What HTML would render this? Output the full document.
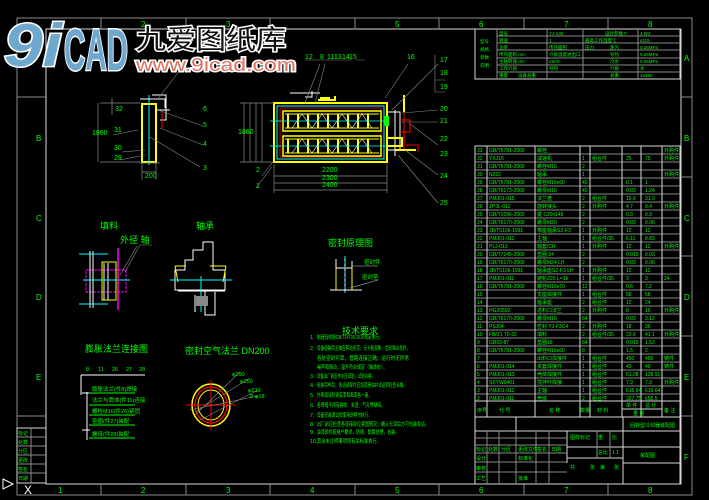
<!DOCTYPE html>
<html><head><meta charset="utf-8"><style>
html,body{margin:0;padding:0;background:#000;}
svg{display:block}
text{font-family:"Liberation Sans","Noto Sans CJK SC",sans-serif;}
.g{fill:#00ff00;font-size:6.5px;}
</style></head><body>
<svg width="709" height="500" viewBox="0 0 709 500" xmlns="http://www.w3.org/2000/svg">
<rect width="709" height="500" fill="#000"/>
<rect x="17" y="18" width="675" height="477" fill="none" stroke="#8a8a8a" stroke-width="1"/>
<rect x="46" y="29" width="635" height="455" fill="none" stroke="#d8d8d8" stroke-width="1"/>
<line x1="17" y1="97" x2="46" y2="97" stroke="#8a8a8a"/>
<line x1="17" y1="416" x2="46" y2="416" stroke="#8a8a8a"/>
<g stroke="#8a8a8a">
<line x1="681" y1="97" x2="692" y2="97"/><line x1="681" y1="177" x2="692" y2="177"/><line x1="681" y1="256" x2="692" y2="256"/><line x1="681" y1="336" x2="692" y2="336"/><line x1="681" y1="416" x2="692" y2="416"/>
<line x1="101" y1="484" x2="101" y2="495"/><line x1="186" y1="484" x2="186" y2="495"/><line x1="270" y1="484" x2="270" y2="495"/><line x1="355" y1="484" x2="355" y2="495"/><line x1="439" y1="484" x2="439" y2="495"/><line x1="524" y1="484" x2="524" y2="495"/><line x1="608" y1="484" x2="608" y2="495"/>
<line x1="101" y1="18" x2="101" y2="29"/><line x1="186" y1="18" x2="186" y2="29"/><line x1="270" y1="18" x2="270" y2="29"/><line x1="355" y1="18" x2="355" y2="29"/><line x1="439" y1="18" x2="439" y2="29"/><line x1="524" y1="18" x2="524" y2="29"/><line x1="608" y1="18" x2="608" y2="29"/>
</g>
<g class="g" style="font-size:8px">
<text x="58" y="493">1</text><text x="141" y="493">2</text><text x="226" y="493">3</text><text x="310" y="493">4</text><text x="395" y="493">5</text><text x="479" y="493">6</text><text x="564" y="493">7</text><text x="648" y="493">8</text>
<text x="141" y="27">2</text><text x="226" y="27">3</text><text x="395" y="27">5</text><text x="479" y="27">6</text><text x="564" y="27">7</text><text x="648" y="27">8</text>
<text x="684" y="61">A</text><text x="684" y="141">B</text><text x="684" y="221">C</text><text x="684" y="300">D</text><text x="684" y="380">E</text><text x="684" y="460">F</text>
<text x="36" y="141">B</text><text x="36" y="221">C</text><text x="36" y="300">D</text><text x="36" y="380">E</text>
</g>
<g stroke="#d8d8d8" fill="none"><rect x="17" y="428" width="29" height="55"/></g>
<g stroke="#8a8a8a"><line x1="17" y1="437" x2="46" y2="437"/><line x1="17" y1="446" x2="46" y2="446"/><line x1="17" y1="455" x2="46" y2="455"/><line x1="17" y1="464" x2="46" y2="464"/><line x1="17" y1="473" x2="46" y2="473"/><line x1="31" y1="428" x2="31" y2="483"/></g>
<g class="g" style="font-size:5px"><text x="18" y="435">标记</text><text x="18" y="444">处数</text><text x="18" y="453">分区</text><text x="18" y="462">更改</text><text x="18" y="471">签名</text><text x="18" y="480">日期</text></g>
<text x="24" y="494" fill="#fff" font-size="12">X</text>
<path d="M3 479 L13 484 L3 489 Z" fill="none" stroke="#fff"/>

<g fill="none" stroke="#d8d8d8"><rect x="475" y="29" width="205" height="50"/></g>
<g stroke="#8a8a8a">
<line x1="497" y1="29" x2="497" y2="79"/><line x1="547" y1="29" x2="547" y2="79"/><line x1="583" y1="29" x2="583" y2="79"/><line x1="638" y1="29" x2="638" y2="79"/>
<line x1="497" y1="36" x2="680" y2="36"/><line x1="497" y1="43" x2="680" y2="43"/><line x1="497" y1="50" x2="680" y2="50"/><line x1="497" y1="58" x2="680" y2="58"/><line x1="497" y1="65" x2="680" y2="65"/><line x1="497" y1="72" x2="680" y2="72"/>
</g>
<g class="g" style="font-size:4.5px">
<text x="480" y="43">型号</text><text x="480" y="51">规格</text><text x="480" y="59">参数</text><text x="480" y="67">说明</text>
<text x="499" y="35">型号</text><text x="549" y="35">YJ-130</text><text x="605" y="35">设计参数 F</text><text x="640" y="35">4.0M</text>
<text x="499" y="42">转速</text><text x="549" y="42">1</text><text x="585" y="42">最高工作温度℃</text><text x="640" y="42">≤115</text>
<text x="499" y="49">功率</text><text x="549" y="49">传热面积</text><text x="585" y="49">压力:</text><text x="610" y="49">蒸汽</text><text x="640" y="49">0.25MPa</text>
<text x="499" y="56">传热面积 mm</text><text x="549" y="56">介质温度进出口</text><text x="610" y="56">导热</text><text x="640" y="56">0.25MPa</text>
<text x="499" y="63">主轴转速 r/m</text><text x="549" y="63">≤5r/m</text><text x="610" y="63">冷水</text><text x="640" y="63">0.25MPa</text>
<text x="499" y="70">工作介质</text><text x="549" y="70">导热</text><text x="610" y="70">介质</text><text x="640" y="70">水</text>
<text x="499" y="77">重量</text><text x="518" y="77">设备总重</text><text x="610" y="77">总重</text><text x="640" y="77">15450</text>
</g>

<g fill="none" stroke="#d8d8d8"><rect x="475" y="146" width="205" height="338"/></g>
<g stroke="#8a8a8a">
<line x1="475" y1="154" x2="680" y2="154"/><line x1="475" y1="162" x2="680" y2="162"/><line x1="475" y1="170" x2="680" y2="170"/><line x1="475" y1="178" x2="680" y2="178"/><line x1="475" y1="186" x2="680" y2="186"/><line x1="475" y1="194" x2="680" y2="194"/><line x1="475" y1="202" x2="680" y2="202"/><line x1="475" y1="210" x2="680" y2="210"/><line x1="475" y1="218" x2="680" y2="218"/><line x1="475" y1="226" x2="680" y2="226"/><line x1="475" y1="234" x2="680" y2="234"/><line x1="475" y1="242" x2="680" y2="242"/><line x1="475" y1="250" x2="680" y2="250"/><line x1="475" y1="258" x2="680" y2="258"/><line x1="475" y1="266" x2="680" y2="266"/><line x1="475" y1="274" x2="680" y2="274"/><line x1="475" y1="282" x2="680" y2="282"/><line x1="475" y1="290" x2="680" y2="290"/><line x1="475" y1="298" x2="680" y2="298"/><line x1="475" y1="306" x2="680" y2="306"/><line x1="475" y1="314" x2="680" y2="314"/><line x1="475" y1="322" x2="680" y2="322"/><line x1="475" y1="330" x2="680" y2="330"/><line x1="475" y1="338" x2="680" y2="338"/><line x1="475" y1="346" x2="680" y2="346"/><line x1="475" y1="354" x2="680" y2="354"/><line x1="475" y1="362" x2="680" y2="362"/><line x1="475" y1="370" x2="680" y2="370"/><line x1="475" y1="378" x2="680" y2="378"/><line x1="475" y1="386" x2="680" y2="386"/><line x1="475" y1="394" x2="680" y2="394"/>
</g>
<g stroke="#d8d8d8">
<line x1="475" y1="401" x2="680" y2="401"/><line x1="475" y1="417" x2="680" y2="417"/><line x1="475" y1="431" x2="680" y2="431"/>
<line x1="487" y1="146" x2="487" y2="417"/><line x1="535" y1="146" x2="535" y2="417"/><line x1="580" y1="146" x2="580" y2="417"/><line x1="590" y1="146" x2="590" y2="417"/><line x1="622" y1="146" x2="622" y2="417"/><line x1="641" y1="146" x2="641" y2="417"/><line x1="662" y1="146" x2="662" y2="417"/>
<line x1="622" y1="409" x2="662" y2="409"/>
<line x1="516" y1="417" x2="516" y2="431"/><line x1="623" y1="417" x2="623" y2="484"/>
<line x1="567" y1="431" x2="567" y2="463"/><line x1="623" y1="447" x2="680" y2="447"/><line x1="623" y1="463" x2="680" y2="463"/><line x1="567" y1="447" x2="623" y2="447"/><line x1="567" y1="458" x2="623" y2="458"/>
</g>
<g stroke="#8a8a8a">
<line x1="475" y1="438" x2="567" y2="438"/><line x1="475" y1="445" x2="567" y2="445"/><line x1="475" y1="453" x2="567" y2="453"/><line x1="475" y1="462" x2="567" y2="462"/><line x1="475" y1="472" x2="567" y2="472"/>
<line x1="487" y1="431" x2="487" y2="484"/><line x1="499" y1="431" x2="499" y2="484"/><line x1="516" y1="431" x2="516" y2="484"/><line x1="536" y1="431" x2="536" y2="484"/><line x1="549" y1="431" x2="549" y2="484"/>
<line x1="597" y1="431" x2="597" y2="458"/><line x1="610" y1="431" x2="610" y2="458"/>
</g>
<g class="g" style="font-size:5px">
<text x="477" y="152">33</text><text x="489" y="152">GB/T5781-2000</text><text x="537" y="152">螺栓</text><text x="664" y="152">外购件</text>
<text x="477" y="160">32</text><text x="489" y="160">YXJ16</text><text x="537" y="160">减速机</text><text x="582" y="160">1</text><text x="592" y="160">组合件</text><text x="626" y="160">25</text><text x="645" y="160">75</text><text x="664" y="160">外购件</text>
<text x="477" y="168">31</text><text x="489" y="168">GB/T5781-2000</text><text x="537" y="168">螺栓M16</text><text x="582" y="168">2</text>
<text x="477" y="176">30</text><text x="489" y="176">N222</text><text x="537" y="176">轴承</text><text x="582" y="176">1</text><text x="664" y="176">外购件</text>
<text x="477" y="184">29</text><text x="489" y="184">GB/T5781-2000</text><text x="537" y="184">螺栓M16x60</text><text x="582" y="184">40</text><text x="626" y="184">0.1</text><text x="645" y="184">1</text>
<text x="477" y="192">28</text><text x="489" y="192">GB/T6173-2000</text><text x="537" y="192">螺母M16</text><text x="582" y="192">40</text><text x="626" y="192">0.03</text><text x="645" y="192">1.24</text>
<text x="477" y="200">27</text><text x="489" y="200">PMJ01-015</text><text x="537" y="200">法兰盘</text><text x="582" y="200">2</text><text x="592" y="200">组合件</text><text x="626" y="200">15.6</text><text x="645" y="200">31.9</text>
<text x="477" y="208">26</text><text x="489" y="208">ZPJL-012</text><text x="537" y="208">旋转接头</text><text x="582" y="208">2</text><text x="592" y="208">外购件</text><text x="626" y="208">4.7</text><text x="645" y="208">9.4</text><text x="664" y="208">外购件</text>
<text x="477" y="216">25</text><text x="489" y="216">GB/T1096-2003</text><text x="537" y="216">键 C20x145</text><text x="582" y="216">2</text><text x="626" y="216">0.3</text><text x="645" y="216">0.9</text>
<text x="477" y="224">24</text><text x="489" y="224">GB/T6170-2000</text><text x="537" y="224">螺母M20</text><text x="582" y="224">2</text><text x="626" y="224">0.03</text><text x="645" y="224">0.06</text>
<text x="477" y="232">23</text><text x="489" y="232">JB/T5106-1991</text><text x="537" y="232">带座轴承SZ-F3</text><text x="582" y="232">1</text><text x="592" y="232">外购件</text><text x="626" y="232">12</text><text x="645" y="232">12</text>
<text x="477" y="240">22</text><text x="489" y="240">PMJ01-012</text><text x="537" y="240">主轴</text><text x="582" y="240">1</text><text x="592" y="240">组合件/35</text><text x="626" y="240">6.11</text><text x="645" y="240">8.83</text>
<text x="477" y="248">21</text><text x="489" y="248">PLJ-013</text><text x="537" y="248">轴套/CR</text><text x="582" y="248">1</text><text x="592" y="248">外购件</text><text x="626" y="248">12</text><text x="645" y="248">12</text><text x="664" y="248">外购件</text>
<text x="477" y="256">20</text><text x="489" y="256">GB/T7245-2000</text><text x="537" y="256">垫圈 24</text><text x="582" y="256">2</text><text x="626" y="256">0.015</text><text x="645" y="256">0.03</text>
<text x="477" y="264">19</text><text x="489" y="264">GB/T6170-2000</text><text x="537" y="264">螺母M24 LH</text><text x="582" y="264">2</text><text x="626" y="264">0.03</text><text x="645" y="264">0.06</text>
<text x="477" y="272">18</text><text x="489" y="272">JB/T5106-1991</text><text x="537" y="272">轴承座SZ-F3 LH</text><text x="582" y="272">1</text><text x="592" y="272">外购件</text><text x="626" y="272">12</text><text x="645" y="272">12</text>
<text x="477" y="280">17</text><text x="489" y="280">PMJ01-011</text><text x="537" y="280">链轮Z25 L=16</text><text x="582" y="280">1</text><text x="592" y="280">组合件/35</text><text x="626" y="280">3</text><text x="645" y="280">3</text><text x="664" y="280">24</text>
<text x="477" y="288">16</text><text x="489" y="288">GB/T5781-2000</text><text x="537" y="288">螺栓M16x70</text><text x="582" y="288">12</text><text x="626" y="288">0.6</text><text x="645" y="288">7.2</text>
<text x="477" y="296">15</text><text x="537" y="296">支座焊接件</text><text x="582" y="296">1</text><text x="592" y="296">组合件</text><text x="626" y="296">58</text><text x="645" y="296">58</text>
<text x="477" y="304">14</text><text x="537" y="304">轴承座</text><text x="582" y="304">2</text><text x="592" y="304">组合件</text><text x="626" y="304">12</text><text x="645" y="304">24</text>
<text x="477" y="312">13</text><text x="489" y="312">HG20592</text><text x="537" y="312">进料口法兰</text><text x="582" y="312">2</text><text x="592" y="312">外购件</text><text x="626" y="312">8</text><text x="645" y="312">16</text><text x="664" y="312">外购件</text>
<text x="477" y="320">12</text><text x="489" y="320">GB/T6170-2000</text><text x="537" y="320">螺母M16</text><text x="582" y="320">64</text><text x="626" y="320">0.03</text><text x="645" y="320">3.12</text>
<text x="477" y="328">11</text><text x="489" y="328">PSJ04</text><text x="537" y="328">密封 YJ-F3C4</text><text x="582" y="328">2</text><text x="592" y="328">外购件</text><text x="626" y="328">18</text><text x="645" y="328">36</text>
<text x="477" y="336">10</text><text x="489" y="336">FB/Z1 70-32</text><text x="537" y="336">填料</text><text x="582" y="336">2</text><text x="592" y="336">组合件/35</text><text x="626" y="336">20.6</text><text x="645" y="336">41.1</text><text x="664" y="336">外购件</text>
<text x="477" y="344">9</text><text x="489" y="344">GB93-87</text><text x="537" y="344">垫圈16</text><text x="582" y="344">64</text><text x="626" y="344">0.015</text><text x="645" y="344">1.53</text>
<text x="477" y="352">8</text><text x="489" y="352">GB/T5781-2000</text><text x="537" y="352">螺栓M16x60</text><text x="582" y="352">8</text><text x="626" y="352">1.5</text><text x="645" y="352">2</text>
<text x="477" y="360">7</text><text x="537" y="360">出料口焊接件</text><text x="582" y="360">1</text><text x="592" y="360">组合件</text><text x="626" y="360">450</text><text x="645" y="360">450</text><text x="664" y="360">铸件</text>
<text x="477" y="368">6</text><text x="489" y="368">PMJ01-014</text><text x="537" y="368">夹套焊接件</text><text x="582" y="368">1</text><text x="592" y="368">组合件</text><text x="626" y="368">40</text><text x="645" y="368">40</text><text x="664" y="368">铸件</text>
<text x="477" y="376">5</text><text x="489" y="376">PMJ01-013</text><text x="537" y="376">壳体焊接件</text><text x="582" y="376">1</text><text x="592" y="376">组合件</text><text x="626" y="376">51.08</text><text x="645" y="376">128.91</text>
<text x="477" y="384">4</text><text x="489" y="384">SXYW0401</text><text x="537" y="384">搅拌叶焊接</text><text x="582" y="384">1</text><text x="592" y="384">组合件</text><text x="626" y="384">7.9</text><text x="645" y="384">7.9</text><text x="664" y="384">外购件</text>
<text x="477" y="392">3</text><text x="489" y="392">PMJ01-012</text><text x="537" y="392">主轴</text><text x="582" y="392">1</text><text x="592" y="392">组合件</text><text x="626" y="392">616.64</text><text x="645" y="392">616.64</text>
<text x="477" y="400">2</text><text x="489" y="400">PMJ01-011</text><text x="537" y="400">壳体</text><text x="582" y="400">2</text><text x="592" y="400">组合件</text><text x="626" y="400">327.75</text><text x="645" y="400">655.5</text>
<text x="477" y="412">序号</text><text x="499" y="412">代  号</text><text x="549" y="412">名  称</text><text x="580" y="412">数量</text><text x="597" y="412">材  料</text><text x="626" y="407">单 件</text><text x="645" y="407">总 计</text><text x="633" y="415">重  量</text><text x="664" y="412">备 注</text>
<text x="630" y="427">回转型冷却器装配图</text>
<text x="570" y="439">图样标记</text><text x="598" y="439">重</text><text x="612" y="439">比</text>
<text x="640" y="457">装配图</text><text x="598" y="454">总比</text><text x="612" y="454">1:1</text>
<text x="570" y="469">共</text><text x="590" y="469">张</text><text x="600" y="469">第</text><text x="614" y="469">张</text>
<text x="476" y="451">标记</text><text x="488" y="451">处数</text><text x="501" y="451">分区</text><text x="518" y="451">更改文件</text><text x="537" y="451">签名</text><text x="551" y="451">日期</text>
<text x="476" y="460">设计</text><text x="518" y="460">标准化</text><text x="476" y="470">审核</text><text x="476" y="480">工艺</text><text x="518" y="480">批准</text>
</g>

<g fill="none">
<rect x="274" y="103" width="113" height="59" stroke="#ffff00" stroke-width="2"/>
<rect x="277" y="106" width="107" height="53" stroke="#00ffff" stroke-width="1"/>
<rect x="280" y="108" width="101" height="49" stroke="#ff0000" stroke-width="0.8"/>
<rect x="283" y="111" width="98" height="20" stroke="#ffff00" stroke-width="1.5"/>
<rect x="283" y="136" width="98" height="20" stroke="#ffff00" stroke-width="1.5"/>
<path d="M288 114 V128 M298 114V128 M308 114V128 M318 114V128 M328 114V128 M338 114V128 M348 114V128 M358 114V128 M368 114V128 M288 139V153 M298 139V153 M308 139V153 M318 139V153 M328 139V153 M338 139V153 M348 139V153 M358 139V153 M368 139V153" stroke="#ffff00" stroke-width="2"/>
<path d="M285 114 H379 M285 128 H379 M285 139 H379 M285 153 H379" stroke="#ffff00" stroke-width="1"/>
<path d="M292 128 L302 114 L312 128 L322 114 L332 128 L342 114 L352 128 L362 114 L372 128 M292 153 L302 139 L312 153 L322 139 L332 153 L342 139 L352 153 L362 139 L372 153" stroke="#fff" stroke-width="0.6"/>
<path d="M270 121 H388 M270 146 H388" stroke="#00ffff" stroke-width="0.8"/>
<path d="M305 97 H312 V91 M290 93 H320" stroke="#fff"/>
<path d="M318 100 H335 V96 M320 98 H330" stroke="#ffff00" stroke-width="2"/>
<path d="M387 112 H400 V150 H387 M395 110 V156" stroke="#fff"/>
<path d="M400 120 H410 V132 H400 M404 112 V150 M406 145 H418 V152" stroke="#ff0000"/>
<path d="M388 138 H402 V146 H388 M395 150 H416" stroke="#ffff00" stroke-width="2"/>
<path d="M404 112 V95" stroke="#ffff00" stroke-width="2"/>
<rect x="384" y="116" width="5" height="10" fill="#00ff00"/>
<path d="M244 103 V162 M250 103V162 M256 103V162 M262 103V162 M240 103 H274 M240 162 H274" stroke="#8a8a8a" stroke-width="0.7"/>
<path d="M274 176 H387 M274 183 H387 M274 190 H387 M274 164 V193 M387 164 V193" stroke="#8a8a8a" stroke-width="0.7"/>
<path d="M273 162 L262 176 M272 167 L256 188 M305 103 L320 64 M315 103 L325 64 M385 98 L408 64 M392 110 L438 64 M402 113 L438 110 M402 122 L438 122 M410 124 L438 145 M405 150 L438 175 M398 155 L438 203" stroke="#8a8a8a" stroke-width="0.6"/>
<path d="M305 60 H322 M318 60 H352 M435 55 V92 H445 M435 80 H445 M356 60 H365" stroke="#8a8a8a" stroke-width="0.6"/>
</g>
<g class="g" style="font-size:7px">
<text x="305" y="59">12</text><text x="320" y="59">8</text><text x="327" y="59">11</text><text x="334" y="59">13</text><text x="342" y="59">14</text><text x="349" y="59">15</text><text x="407" y="59">16</text>
<text x="440" y="62">17</text><text x="440" y="75">18</text><text x="440" y="89">19</text><text x="440" y="111">20</text><text x="440" y="123">21</text><text x="440" y="141">22</text><text x="440" y="156">23</text><text x="440" y="178">24</text><text x="440" y="205">25</text>
<text x="256" y="172">2</text><text x="256" y="188">1</text>
<text x="238" y="134">1860</text><text x="322" y="172">2200</text><text x="322" y="180">2300</text><text x="322" y="187">2400</text>
</g>
<g fill="none">
<rect x="142" y="104" width="14" height="58" stroke="#ffff00" stroke-width="2"/>
<path d="M149 95 V165" stroke="#00ffff"/>
<path d="M140 99 H165 V108 M152 95 H166 V120 H160 M156 110 H170" stroke="#fff"/>
<path d="M162 112 V128" stroke="#ff0000"/>
<path d="M100 103 H140 M100 162 H140 M98 103 V162 M112 98 V115 M140 163 H160 M142 172 H156 M142 163 V180 M156 163 V180" stroke="#8a8a8a" stroke-width="0.7"/>
<path d="M158 110 L203 126 M160 128 L203 145 M150 137 L200 167 M145 150 L122 152 M138 130 L113 135 M145 155 L120 160 M157 100 L180 70" stroke="#8a8a8a" stroke-width="0.6"/>
</g>
<g class="g" style="font-size:7px"><text x="203" y="111">6</text><text x="203" y="127">5</text><text x="203" y="146">4</text><text x="203" y="170">3</text><text x="114" y="132">31</text><text x="114" y="150">30</text><text x="114" y="160">29</text><text x="115" y="111">32</text><text x="92" y="135">1860</text><text x="145" y="178">200</text></g>

<g class="g" style="font-size:9px">
<text x="100" y="229">填料</text><text x="120" y="243">外径  轴</text><text x="196" y="229">轴承</text><text x="328" y="246">密封原理图</text>
<text x="85" y="352">膨胀法兰连接图</text><text x="185" y="354">密封空气法兰  DN200</text><text x="342" y="334">技术要求</text>
</g>
<g fill="none">
<rect x="86" y="270" width="40" height="22" stroke="#ff00ff" stroke-dasharray="3,1"/>
<rect x="102" y="262" width="14" height="38" stroke="#ffff00"/>
<path d="M90 251 V308 M93 251 V308 M104 263 V300 M108 263 V300" stroke="#fff"/>
<path d="M79 254 H108 M79 304 H108 M83 280 H130" stroke="#00ffff"/>
<path d="M118 248 V310" stroke="#ff00ff" stroke-width="1.5"/>
<path d="M125 272 L140 245 H152 M120 275 L137 246" stroke="#8a8a8a" stroke-width="0.6"/>
<path d="M175 270 H185 V260 H193 V250 H203 V242 H213 V270 H225 V290 H175 Z" stroke="#fff"/>
<path d="M175 266 H186 M210 266 H226 M175 266 L178 282 M226 266 L223 282" stroke="#ffff00"/>
<path d="M170 280 H232 M201 276 V312" stroke="#00ffff"/>
<path d="M178 291 H225 M195 295 V312 M205 290 V315 H215 V292" stroke="#fff"/>
<rect x="196" y="296" width="12" height="10" fill="#888"/>
<path d="M336 259 V290 M352 261 V290 M336 268 H352 M330 290 H362 M345 256 V292" stroke="#fff"/>
<path d="M336 268 V290 M352 268 V290" stroke="#ffff00"/>
<path d="M345 256 V293" stroke="#00ffff" stroke-dasharray="3,2"/>
<path d="M352 266 H378 M350 288 L378 280" stroke="#8a8a8a" stroke-width="0.7"/>
<ellipse cx="211" cy="405" rx="19" ry="21" stroke="#ffff00" stroke-width="1.5"/>
<ellipse cx="211" cy="405" rx="16" ry="18" stroke="#ff0000" stroke-width="1.2"/>
<ellipse cx="211" cy="405" rx="13" ry="15" stroke="#ffff00" stroke-width="1"/>
<path d="M186 405 H236 M211 380 V430" stroke="#ff0000"/>
<path d="M195 415 L240 372 M195 412 L250 378 M200 420 L258 390 M190 410 L258 396" stroke="#8a8a8a" stroke-width="0.6"/>
<path d="M81 375 H145 M81 375 V395 M87 392 V440 M82 393 H90 M82 430 H90" stroke="#fff"/>
<path d="M89 393 H135 M89 405 H135 M89 415 H135 M89 425 H135 M89 438 H135" stroke="#00ff00"/>
</g>
<g class="g" style="font-size:5.5px">
<text x="86" y="371">8</text><text x="98" y="371">11</text><text x="112" y="371">26</text><text x="126" y="371">27</text><text x="139" y="371">28</text>
<text x="92" y="391">膨胀法兰(件8)焊接</text><text x="92" y="402">法兰与筒体(件11)连接</text><text x="92" y="413">螺栓M16(件26)紧固</text><text x="92" y="423">垫圈(件27)装配</text><text x="92" y="436">螺母(件28)装配</text>
<text x="364" y="264">密封件</text><text x="362" y="279">密封垫</text>
<text x="232" y="376">φ290</text><text x="240" y="383">φ250</text><text x="248" y="392">φ219</text><text x="250" y="398">8-φ18</text>
</g>
<g class="g" style="font-size:5.5px">
<text x="310" y="339">1.</text><text x="317" y="339" textLength="66" lengthAdjust="spacingAndGlyphs">制造验收按GB/T14795-2018规定执行。</text>
<text x="310" y="350">2.</text><text x="317" y="350" textLength="93" lengthAdjust="spacingAndGlyphs">设备组装后主轴应转动灵活，无卡阻现象，齿轮啮合良好，</text>
<text x="317" y="360" textLength="92" lengthAdjust="spacingAndGlyphs">各处密封可靠，管路连接正确；运行时无异常</text>
<text x="317" y="369" textLength="70" lengthAdjust="spacingAndGlyphs">噪声和振动，温升符合规定（轴承处）。</text>
<text x="310" y="378">3.</text><text x="317" y="378" textLength="58" lengthAdjust="spacingAndGlyphs">设备出厂前应作水压试验，试验合格。</text>
<text x="310" y="387">4.</text><text x="317" y="387" textLength="90" lengthAdjust="spacingAndGlyphs">组装完毕后，各运动部件应加润滑油并试运转检查合格。</text>
<text x="310" y="397">5.</text><text x="317" y="397" textLength="55" lengthAdjust="spacingAndGlyphs">外表面涂防锈底漆和面漆各一遍。</text>
<text x="310" y="407">6.</text><text x="317" y="407" textLength="68" lengthAdjust="spacingAndGlyphs">各焊缝不得有裂纹、夹渣、气孔等缺陷。</text>
<text x="310" y="417">7.</text><text x="317" y="417" textLength="55" lengthAdjust="spacingAndGlyphs">设备安装调试按使用说明书执行。</text>
<text x="310" y="426">8.</text><text x="317" y="426" textLength="112" lengthAdjust="spacingAndGlyphs">出厂前应检查各连接部位紧固情况，确认无误后方可包装发运。</text>
<text x="310" y="434">9.</text><text x="317" y="434" textLength="82" lengthAdjust="spacingAndGlyphs">油漆颜色按用户要求，防锈、防腐处理，包装。</text>
<text x="310" y="443">10.</text><text x="317" y="443" textLength="64" lengthAdjust="spacingAndGlyphs">其余未注明事项按有关标准执行。</text>
</g>

<g>
<text x="4" y="66" font-family="Liberation Sans, sans-serif" font-size="60" font-weight="bold" font-style="italic" fill="#6fa8cf" stroke="#ffffff" stroke-width="3" paint-order="stroke" textLength="58" lengthAdjust="spacingAndGlyphs">9i</text>
<text x="64" y="70" font-family="Liberation Sans, sans-serif" font-size="58" font-weight="bold" fill="#6fa8cf" stroke="#ffffff" stroke-width="3" paint-order="stroke" textLength="64" lengthAdjust="spacingAndGlyphs">CAD</text>
<text x="136" y="49" font-family="Noto Sans CJK SC, sans-serif" font-size="27" fill="#111" stroke="#ffffff" stroke-width="3" paint-order="stroke" textLength="150" lengthAdjust="spacingAndGlyphs">九爱图纸库</text>
<text x="136" y="71" font-family="Liberation Mono, monospace" font-size="18" fill="#e07060" stroke="#ffffff" stroke-width="3" paint-order="stroke" textLength="160" lengthAdjust="spacingAndGlyphs">www.9icad.com</text>
</g>
</svg>
</body></html>
